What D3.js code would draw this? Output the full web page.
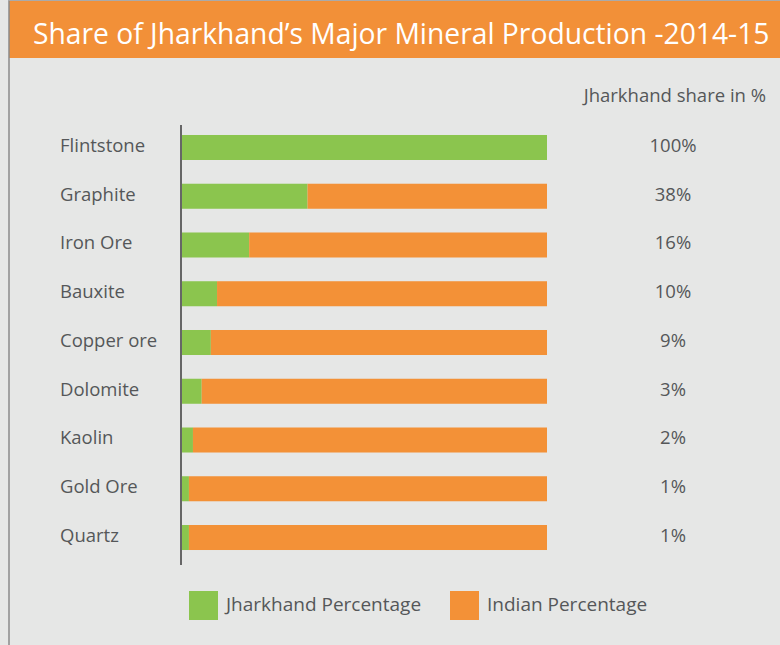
<!DOCTYPE html>
<html>
<head>
<meta charset="utf-8">
<script src="https://cdn.jsdelivr.net/npm/d3@7"></script>
<style>
  body { margin: 0; background: #e6e7e6; }
  svg { display: block; font-family: "Open Sans", "Noto Sans", sans-serif; }
</style>
</head>
<body>
<div id="chart-area"></div>
<script>
// DATA
const categories = ["Flintstone", "Graphite", "Iron Ore", "Bauxite", "Copper ore", "Dolomite", "Kaolin", "Gold Ore", "Quartz"];
const jharkhandPct = [100, 34.4, 18.4, 9.6, 7.9, 5.4, 3.0, 1.9, 1.9];
const shareLabels = ["100%", "38%", "16%", "10%", "9%", "3%", "2%", "1%", "1%"];
const seriesNames = ["Jharkhand Percentage", "Indian Percentage"];

const width = 780, height = 645;
const green = "#8bc54e", orange = "#f39137", textColor = "#555759";

const svg = d3.select("#chart-area")
    .append("svg")
    .attr("width", width)
    .attr("height", height);

svg.append("rect")
    .attr("width", width)
    .attr("height", height)
    .attr("fill", "#e6e7e6");

// TITLE BAR
svg.append("rect")
    .attr("x", 9)
    .attr("y", 1)
    .attr("width", width - 9)
    .attr("height", 57)
    .attr("fill", "#f29038");

svg.append("line")
    .attr("x1", 8).attr("x2", width)
    .attr("y1", 0.5).attr("y2", 0.5)
    .attr("stroke", "#aaaaaa");

svg.append("line")
    .attr("x1", 9).attr("x2", 9)
    .attr("y1", 1).attr("y2", height)
    .attr("stroke", "#8a8a8a")
    .attr("stroke-width", 1.5);

const title = svg.append("text")
    .attr("x", 33)
    .attr("y", 44)
    .attr("fill", "#ffffff")
    .attr("font-size", "27px")
    .text("Share of Jharkhand\u2019s Major Mineral Production -2014-15");
// fit title to the reference width
const tw = title.node().getComputedTextLength();
title.attr("font-size", (27 * 737 / tw) + "px");

// SCALES
const x = d3.scaleLinear()
    .domain([0, 100])
    .range([182, 547]);

const y = d3.scaleBand()
    .domain(categories)
    .range([122.8, 562.2])
    .paddingInner(0.487)
    .paddingOuter(0.25);

const rows = categories.map(function (c, i) {
    return { name: c, jh: jharkhandPct[i], india: 100 - jharkhandPct[i], label: shareLabels[i] };
});

const stacked = d3.stack().keys(["jh", "india"])(rows);
const colors = [green, orange];

// ACTUAL BARS
svg.selectAll("g.series")
    .data(stacked)
    .enter()
    .append("g")
    .attr("class", "series")
    .attr("fill", function (d, i) { return colors[i]; })
    .selectAll("rect")
    .data(function (d) { return d; })
    .enter()
    .append("rect")
    .attr("x", function (d) { return x(d[0]); })
    .attr("y", function (d) { return y(d.data.name); })
    .attr("width", function (d) { return x(d[1]) - x(d[0]); })
    .attr("height", y.bandwidth());

// AXIS LINE
svg.append("line")
    .attr("x1", 181).attr("x2", 181)
    .attr("y1", 125).attr("y2", 565)
    .attr("stroke", "#666666")
    .attr("stroke-width", 2);

// CATEGORY LABELS
svg.selectAll("text.cat")
    .data(rows)
    .enter()
    .append("text")
    .attr("class", "cat")
    .attr("x", 60)
    .attr("y", function (d) { return y(d.name) + y.bandwidth() / 2 - 2; })
    .attr("dy", "0.35em")
    .attr("font-size", "18.5px")
    .attr("fill", textColor)
    .text(function (d) { return d.name; });

// SHARE LABELS
svg.append("text")
    .attr("x", 766)
    .attr("y", 96)
    .attr("dy", "0.35em")
    .attr("text-anchor", "end")
    .attr("font-size", "18.5px")
    .attr("fill", textColor)
    .text("Jharkhand share in %");

svg.selectAll("text.share")
    .data(rows)
    .enter()
    .append("text")
    .attr("class", "share")
    .attr("x", 673)
    .attr("y", function (d) { return y(d.name) + y.bandwidth() / 2 - 2; })
    .attr("dy", "0.35em")
    .attr("text-anchor", "middle")
    .attr("font-size", "18.5px")
    .attr("fill", textColor)
    .text(function (d) { return d.label; });

// LEGEND
const legendX = [189, 450];
const legend = svg.selectAll("g.legend")
    .data(seriesNames)
    .enter()
    .append("g")
    .attr("class", "legend")
    .attr("transform", function (d, i) { return "translate(" + legendX[i] + ", 591)"; });

legend.append("rect")
    .attr("width", 29)
    .attr("height", 29)
    .attr("fill", function (d, i) { return colors[i]; });

legend.append("text")
    .attr("x", 37)
    .attr("y", 13.5)
    .attr("dy", "0.35em")
    .attr("font-size", "19px")
    .attr("fill", textColor)
    .text(function (d) { return d; });
</script>
</body>
</html>
